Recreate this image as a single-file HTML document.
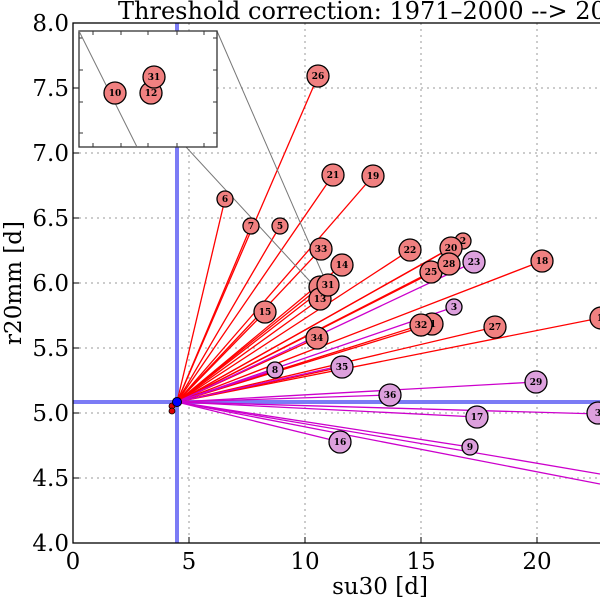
<!DOCTYPE html>
<html><head><meta charset="utf-8"><style>body{margin:0;background:#fff}svg{display:block}</style></head><body>
<svg width="600" height="600" viewBox="0 0 600 600" xmlns="http://www.w3.org/2000/svg" font-family="'DejaVu Serif','Liberation Serif',serif">
<rect width="600" height="600" fill="#fff"/>
<text x="118" y="19" font-size="24">Threshold correction: 1971–2000 --&gt; 2071–2100</text>
<g stroke="#999" stroke-dasharray="2,4" stroke-width="1">
<line x1="189" y1="23" x2="189" y2="543"/><line x1="305" y1="23" x2="305" y2="543"/><line x1="421" y1="23" x2="421" y2="543"/><line x1="537" y1="23" x2="537" y2="543"/>
<line x1="73" y1="88" x2="600" y2="88"/><line x1="73" y1="153" x2="600" y2="153"/><line x1="73" y1="218" x2="600" y2="218"/><line x1="73" y1="283" x2="600" y2="283"/><line x1="73" y1="348" x2="600" y2="348"/><line x1="73" y1="413" x2="600" y2="413"/><line x1="73" y1="478" x2="600" y2="478"/>
</g>
<line x1="177" y1="23" x2="177" y2="543" stroke="#7b7bf5" stroke-width="4"/>
<line x1="73" y1="402" x2="600" y2="402" stroke="#7b7bf5" stroke-width="4"/>
<g stroke="#f00" stroke-width="1.3">
<line x1="177" y1="402" x2="318" y2="76"/><line x1="177" y1="402" x2="225" y2="199"/><line x1="177" y1="402" x2="251" y2="226"/><line x1="177" y1="402" x2="280" y2="226"/><line x1="177" y1="402" x2="333" y2="175"/><line x1="177" y1="402" x2="373" y2="176"/><line x1="177" y1="402" x2="321" y2="249"/><line x1="177" y1="402" x2="342" y2="265"/><line x1="177" y1="402" x2="328" y2="285"/><line x1="177" y1="402" x2="320" y2="287"/><line x1="177" y1="402" x2="320" y2="299"/><line x1="177" y1="402" x2="265" y2="312"/><line x1="177" y1="402" x2="317" y2="338"/><line x1="177" y1="402" x2="410" y2="250"/><line x1="177" y1="402" x2="463" y2="241"/><line x1="177" y1="402" x2="451" y2="248"/><line x1="177" y1="402" x2="449" y2="264"/><line x1="177" y1="402" x2="431" y2="272"/><line x1="177" y1="402" x2="542" y2="261"/><line x1="177" y1="402" x2="432" y2="324"/><line x1="177" y1="402" x2="421" y2="325"/><line x1="177" y1="402" x2="495" y2="327"/><line x1="177" y1="402" x2="600" y2="318"/><line x1="177" y1="402" x2="342" y2="367"/>
</g>
<g stroke="#c0c" stroke-width="1.3">
<line x1="177" y1="402" x2="474" y2="262"/><line x1="177" y1="402" x2="454" y2="307"/><line x1="177" y1="402" x2="536" y2="382"/><line x1="177" y1="402" x2="390" y2="395"/><line x1="177" y1="402" x2="477" y2="417"/><line x1="177" y1="402" x2="600" y2="414"/><line x1="177" y1="402" x2="340" y2="442"/><line x1="177" y1="402" x2="470" y2="447"/><line x1="177" y1="402" x2="275" y2="370"/><line x1="177" y1="402" x2="600" y2="474"/><line x1="177" y1="402" x2="600" y2="484"/><line x1="177" y1="402" x2="340" y2="366"/>
</g>
<g stroke="#777" stroke-width="1"><line x1="79" y1="31" x2="318" y2="290"/><line x1="217" y1="31" x2="326" y2="282"/></g>
<g stroke="#000" stroke-width="1.3">
<g fill="#f08080">
<circle cx="318" cy="76" r="11"/><circle cx="225" cy="199" r="8"/><circle cx="251" cy="226" r="8"/><circle cx="280" cy="226" r="8"/><circle cx="333" cy="175" r="11"/><circle cx="373" cy="176" r="11"/><circle cx="321" cy="249" r="11"/><circle cx="342" cy="265" r="11"/><circle cx="320" cy="287" r="11"/><circle cx="320" cy="299" r="11"/><circle cx="328" cy="285" r="11"/><circle cx="265" cy="312" r="11"/><circle cx="317" cy="338" r="11"/><circle cx="410" cy="250" r="11"/><circle cx="463" cy="241" r="8"/><circle cx="451" cy="248" r="11"/><circle cx="431" cy="272" r="11"/><circle cx="449" cy="264" r="11"/><circle cx="542" cy="261" r="11"/><circle cx="432" cy="324" r="11"/><circle cx="421" cy="325" r="11"/><circle cx="495" cy="327" r="11"/><circle cx="601" cy="318" r="11"/>
</g>
<g fill="#dda0dd">
<circle cx="474" cy="262" r="11"/><circle cx="454" cy="307" r="8"/><circle cx="536" cy="382" r="11"/><circle cx="390" cy="395" r="11"/><circle cx="477" cy="417" r="11"/><circle cx="598" cy="413" r="11"/><circle cx="340" cy="442" r="11"/><circle cx="470" cy="447" r="8"/><circle cx="275" cy="370" r="8"/><circle cx="342" cy="367" r="11"/>
</g>
</g>
<g font-size="9" font-weight="bold" text-anchor="middle" fill="#000">
<text x="318" y="79">26</text><text x="225" y="202">6</text><text x="251" y="229">7</text><text x="280" y="229">5</text><text x="333" y="178">21</text><text x="373" y="179">19</text><text x="321" y="252">33</text><text x="342" y="268">14</text><text x="320" y="302">13</text><text x="328" y="288">31</text><text x="265" y="315">15</text><text x="317" y="341">34</text><text x="410" y="253">22</text><text x="463" y="244">2</text><text x="451" y="251">20</text><text x="431" y="275">25</text><text x="449" y="267">28</text><text x="542" y="264">18</text><text x="433" y="327">1</text><text x="421" y="328">32</text><text x="495" y="330">27</text><text x="600" y="321">1</text>
<text x="474" y="265">23</text><text x="454" y="310">3</text><text x="536" y="385">29</text><text x="390" y="398">36</text><text x="477" y="420">17</text><text x="598" y="416">3</text><text x="340" y="445">16</text><text x="470" y="450">9</text><text x="275" y="373">8</text><text x="342" y="370">35</text>
</g>
<circle cx="172" cy="406" r="3" fill="#d00" stroke="#000" stroke-width="0.8"/><circle cx="172" cy="411" r="3" fill="#d00" stroke="#000" stroke-width="0.8"/>
<circle cx="177" cy="402" r="4.5" fill="#00f" stroke="#000" stroke-width="1"/>
<rect x="73" y="23" width="540" height="520" fill="none" stroke="#000" stroke-width="1.3"/>
<g stroke="#000" stroke-width="1"><line x1="189" y1="543" x2="189" y2="537"/><line x1="305" y1="543" x2="305" y2="537"/><line x1="421" y1="543" x2="421" y2="537"/><line x1="537" y1="543" x2="537" y2="537"/><line x1="73" y1="88" x2="79" y2="88"/><line x1="73" y1="153" x2="79" y2="153"/><line x1="73" y1="218" x2="79" y2="218"/><line x1="73" y1="283" x2="79" y2="283"/><line x1="73" y1="348" x2="79" y2="348"/><line x1="73" y1="413" x2="79" y2="413"/><line x1="73" y1="478" x2="79" y2="478"/></g>
<rect x="79" y="31" width="138" height="116" fill="#fff" stroke="#333" stroke-width="1.3"/>
<g stroke="#333" stroke-width="1"><line x1="93" y1="147" x2="93" y2="143"/><line x1="121" y1="147" x2="121" y2="143"/><line x1="148" y1="147" x2="148" y2="143"/><line x1="177" y1="147" x2="177" y2="143"/><line x1="204" y1="147" x2="204" y2="143"/><line x1="93" y1="31" x2="93" y2="35"/><line x1="121" y1="31" x2="121" y2="35"/><line x1="148" y1="31" x2="148" y2="35"/><line x1="177" y1="31" x2="177" y2="35"/><line x1="204" y1="31" x2="204" y2="35"/><line x1="79" y1="38" x2="83" y2="38"/><line x1="79" y1="70" x2="83" y2="70"/><line x1="79" y1="102" x2="83" y2="102"/><line x1="79" y1="133" x2="83" y2="133"/><line x1="217" y1="38" x2="213" y2="38"/><line x1="217" y1="70" x2="213" y2="70"/><line x1="217" y1="102" x2="213" y2="102"/><line x1="217" y1="133" x2="213" y2="133"/></g>
<line x1="79" y1="31" x2="137" y2="147" stroke="#777" stroke-width="1"/>
<g fill="#f08080" stroke="#000" stroke-width="1.3"><circle cx="115" cy="93" r="11"/><circle cx="151" cy="93" r="11"/><circle cx="154" cy="77" r="11"/></g>
<g font-size="9" font-weight="bold" text-anchor="middle"><text x="115" y="96">10</text><text x="151" y="96">12</text><text x="154" y="80">31</text></g>
<g font-size="23" text-anchor="end"><text x="69" y="31">8.0</text><text x="69" y="96">7.5</text><text x="69" y="161">7.0</text><text x="69" y="226">6.5</text><text x="69" y="291">6.0</text><text x="69" y="356">5.5</text><text x="69" y="421">5.0</text><text x="69" y="486">4.5</text><text x="69" y="551">4.0</text></g>
<g font-size="23" text-anchor="middle"><text x="73" y="569">0</text><text x="189" y="569">5</text><text x="305" y="569">10</text><text x="421" y="569">15</text><text x="537" y="569">20</text></g>
<text x="380" y="594" font-size="23" text-anchor="middle">su30 [d]</text>
<text transform="translate(21,283) rotate(-90)" font-size="23" text-anchor="middle">r20mm [d]</text>
</svg>
</body></html>
